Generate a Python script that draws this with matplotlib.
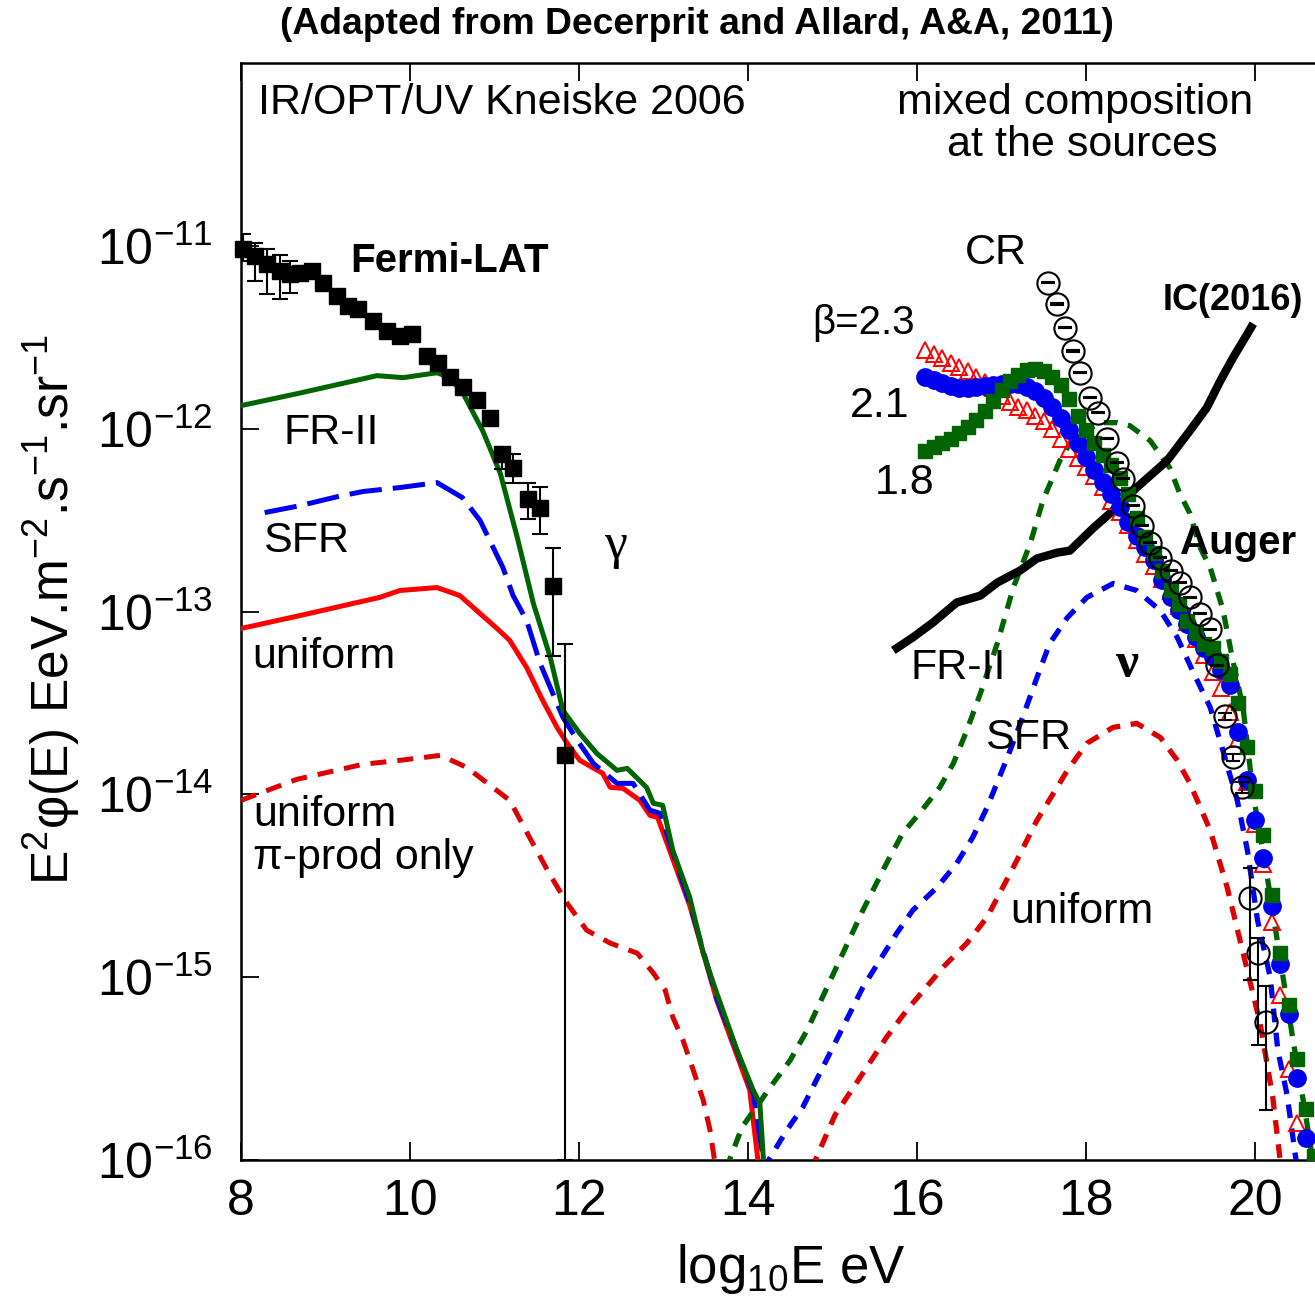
import numpy as np
import matplotlib
matplotlib.use('Agg')
import matplotlib.pyplot as plt

plt.rcParams['font.family'] = ['Liberation Sans', 'DejaVu Sans']
plt.rcParams['mathtext.fontset'] = 'custom'
plt.rcParams['mathtext.rm'] = 'Liberation Sans'
plt.rcParams['mathtext.it'] = 'Liberation Sans:italic'
plt.rcParams['mathtext.bf'] = 'Liberation Sans:bold'
plt.rcParams['mathtext.default'] = 'regular'

# ---------------- data (x = log10 E/eV, y = log10 E^2 phi) ----------------
fermi_x = [8.02, 8.17, 8.31, 8.46, 8.58, 8.70, 8.84, 8.97, 9.14, 9.27, 9.38, 9.56, 9.73,
           9.88, 10.02, 10.20, 10.33, 10.47, 10.63, 10.79, 10.95, 11.09, 11.22, 11.40,
           11.54, 11.69, 11.83]
fermi_y = [-11.016, -11.055, -11.098, -11.137, -11.153, -11.148, -11.137, -11.202, -11.273,
           -11.328, -11.344, -11.410, -11.464, -11.492, -11.481, -11.601, -11.639, -11.716,
           -11.770, -11.842, -11.940, -12.137, -12.213, -12.383, -12.432, -12.858, -13.787]
fermi_lo = [0.066, 0.136, 0.164, 0.153, 0.104, 0, 0, 0, 0, 0, 0, 0, 0, 0, 0, 0, 0, 0, 0, 0, 0,
            0.082, 0.082, 0.109, 0.142, 0.388, 2.213]
fermi_hi = [0.082, 0.071, 0.082, 0.088, 0.071, 0, 0, 0, 0, 0, 0, 0, 0, 0, 0, 0, 0, 0, 0, 0, 0,
            0.033, 0.076, 0.088, 0.115, 0.208, 0.607]

# gamma-ray cascade curves
g_fr2_x = [8.0, 8.66, 9.61, 9.92, 10.32, 10.47, 10.63, 10.86, 11.07, 11.27, 11.46, 11.66,
           11.81, 12.01, 12.21, 12.45, 12.57, 12.80, 12.88, 12.99, 13.11, 13.31, 13.47, 13.63,
           13.87, 14.06, 14.14, 14.19]
g_fr2_y = [-11.874, -11.809, -11.710, -11.721, -11.694, -11.721, -11.809, -12.011, -12.246,
           -12.596, -12.956, -13.251, -13.541, -13.667, -13.776, -13.869, -13.858, -13.962,
           -14.049, -14.060, -14.306, -14.563, -14.869, -15.087, -15.399, -15.617, -15.689,
           -16.05]

g_sfr_x = [8.28, 8.70, 9.14, 9.44, 9.88, 10.32, 10.62, 10.83, 11.10, 11.22, 11.38, 11.54,
           11.69, 11.81, 11.98, 12.17, 12.45, 12.64, 12.84, 12.96, 13.31, 13.63, 14.06, 14.20]
g_sfr_y = [-12.459, -12.421, -12.372, -12.344, -12.322, -12.295, -12.377, -12.503, -12.760,
           -12.913, -13.049, -13.284, -13.448, -13.579, -13.705, -13.831, -13.940, -13.940,
           -14.087, -14.104, -14.596, -15.115, -15.634, -16.05]

g_uni_x = [8.0, 8.70, 9.64, 9.88, 10.32, 10.59, 10.79, 11.03, 11.18, 11.38, 11.57, 11.74,
           11.86, 12.01, 12.28, 12.37, 12.52, 12.72, 12.84, 12.93, 13.31, 13.63, 14.02, 14.13]
g_uni_y = [-13.093, -13.022, -12.923, -12.885, -12.869, -12.913, -12.995, -13.093, -13.158,
           -13.306, -13.486, -13.634, -13.721, -13.814, -13.885, -13.962, -13.967, -14.033,
           -14.115, -14.126, -14.607, -15.126, -15.617, -16.05]

g_pi_x = [8.0, 8.66, 9.44, 9.88, 10.36, 10.67, 10.98, 11.18, 11.42, 11.66, 11.86, 12.09,
          12.37, 12.69, 12.88, 13.02, 13.11, 13.23, 13.34, 13.47, 13.55, 13.62]
g_pi_y = [-14.033, -13.918, -13.836, -13.814, -13.787, -13.852, -13.962, -14.033, -14.240,
          -14.443, -14.596, -14.743, -14.814, -14.869, -14.978, -15.071, -15.219, -15.344,
          -15.492, -15.672, -15.836, -16.05]

# neutrino curves
n_fr2_x = [13.74, 13.93, 14.30, 14.50, 14.70, 15.36, 15.64, 15.83, 16.04, 16.27, 16.43,
           16.59, 16.75, 16.95, 17.14, 17.34, 17.49, 17.69, 17.85, 18.17, 18.37, 18.52,
           18.76, 18.99, 19.11, 19.23, 19.35, 19.47, 19.62, 19.73, 19.86, 19.98, 20.14,
           20.30, 20.45, 20.59, 20.70]
n_fr2_y = [-16.05, -15.820, -15.579, -15.454, -15.290, -14.634, -14.377, -14.213, -14.098,
           -13.962, -13.831, -13.650, -13.448, -13.175, -12.869, -12.628, -12.393, -12.175,
           -12.049, -11.967, -11.967, -11.984, -12.066, -12.213, -12.355, -12.464, -12.650,
           -12.760, -12.989, -13.251, -13.530, -14.005, -14.437, -14.907, -15.344, -15.727,
           -16.05]

n_sfr_x = [14.18, 14.46, 14.65, 15.36, 15.56, 15.76, 15.95, 16.24, 16.47, 16.66, 16.83,
           17.07, 17.25, 17.42, 17.57, 17.78, 18.01, 18.32, 18.60, 18.88, 19.08, 19.27,
           19.47, 19.62, 19.79, 19.91, 20.03, 20.18, 20.27, 20.38, 20.50]
n_sfr_y = [-16.05, -15.836, -15.710, -15.055, -14.907, -14.760, -14.634, -14.508, -14.377,
           -14.235, -14.071, -13.798, -13.579, -13.361, -13.175, -13.033, -12.923, -12.847,
           -12.885, -12.995, -13.142, -13.333, -13.525, -13.760, -14.033, -14.306, -14.689,
           -15.0, -15.399, -15.645, -16.05]

n_uni_x = [14.75, 15.03, 15.33, 15.64, 15.88, 16.31, 16.59, 16.83, 17.14, 17.42, 17.78,
           18.01, 18.32, 18.60, 18.88, 19.08, 19.23, 19.47, 19.67, 19.86, 20.06, 20.21,
           20.31]
n_uni_y = [-16.05, -15.754, -15.546, -15.328, -15.180, -14.945, -14.814, -14.672, -14.399,
           -14.142, -13.869, -13.721, -13.634, -13.612, -13.689, -13.814, -13.940, -14.197,
           -14.508, -14.869, -15.251, -15.656, -16.05]

# IceCube 2016 limit
ic_x = [15.72, 15.95, 16.19, 16.47, 16.75, 16.95, 17.22, 17.42, 17.66, 17.81, 18.08, 18.32,
        18.60, 18.96, 19.23, 19.43, 19.59, 19.74, 19.91, 19.98]
ic_y = [-13.213, -13.142, -13.060, -12.951, -12.913, -12.842, -12.776, -12.710, -12.678,
        -12.667, -12.546, -12.448, -12.322, -12.175, -12.011, -11.885, -11.738, -11.612,
        -11.481, -11.426]

# UHECR model spectra (beta = 2.3, 2.1, 1.8)
b23_x = [16.1, 16.2, 16.3, 16.4, 16.5, 16.6, 16.7, 16.8, 16.9, 17.0, 17.1, 17.2, 17.3, 17.4,
         17.5, 17.6, 17.7, 17.8, 17.9, 18.0, 18.1, 18.2, 18.3, 18.4, 18.5, 18.6, 18.7, 18.8,
         18.9, 19.0, 19.1, 19.2, 19.3, 19.4, 19.5, 19.6, 19.7, 19.8, 19.9, 20.0, 20.1, 20.2,
         20.3, 20.4, 20.5]
b23_y = [-11.57, -11.59, -11.615, -11.64, -11.66, -11.685, -11.715, -11.745, -11.78, -11.82,
         -11.855, -11.88, -11.90, -11.93, -11.96, -12.00, -12.055, -12.11, -12.16, -12.21,
         -12.26, -12.32, -12.395, -12.455, -12.525, -12.61, -12.685, -12.75, -12.82, -12.89,
         -12.97, -13.06, -13.15, -13.24, -13.33, -13.42, -13.55, -13.70, -13.93, -14.16,
         -14.38, -14.70, -15.10, -15.50, -15.80]

b21_x = [16.1, 16.2, 16.3, 16.4, 16.5, 16.6, 16.7, 16.8, 16.9, 17.0, 17.1, 17.2, 17.3, 17.4,
         17.5, 17.6, 17.7, 17.8, 17.9, 18.0, 18.1, 18.2, 18.3, 18.4, 18.5, 18.6, 18.7, 18.8,
         18.9, 19.0, 19.1, 19.2, 19.3, 19.4, 19.5, 19.6, 19.7, 19.8, 19.9, 20.0, 20.1, 20.2,
         20.3, 20.4, 20.5, 20.6]
b21_y = [-11.72, -11.735, -11.75, -11.765, -11.775, -11.775, -11.77, -11.765, -11.76, -11.755,
         -11.755, -11.755, -11.77, -11.795, -11.83, -11.88, -11.94, -12.01, -12.08, -12.155,
         -12.225, -12.29, -12.36, -12.43, -12.51, -12.585, -12.645, -12.72, -12.83, -12.92,
         -12.99, -13.07, -13.14, -13.20, -13.25, -13.32, -13.40, -13.66, -13.92, -14.14,
         -14.35, -14.61, -14.93, -15.20, -15.55, -15.88]

b18_x = [16.1, 16.2, 16.3, 16.4, 16.5, 16.6, 16.7, 16.8, 16.9, 17.0, 17.1, 17.2, 17.3, 17.4,
         17.5, 17.6, 17.7, 17.8, 17.9, 18.0, 18.1, 18.2, 18.3, 18.4, 18.5, 18.6, 18.7, 18.8,
         18.9, 19.0, 19.1, 19.2, 19.3, 19.4, 19.5, 19.6, 19.7, 19.8, 19.9, 20.0, 20.1, 20.2,
         20.3, 20.4, 20.5, 20.6, 20.7]
b18_y = [-12.12, -12.10, -12.08, -12.055, -12.025, -11.99, -11.95, -11.905, -11.847, -11.79,
         -11.74, -11.705, -11.68, -11.672, -11.685, -11.715, -11.76, -11.84, -11.93, -12.01,
         -12.08, -12.145, -12.20, -12.27, -12.36, -12.486, -12.59, -12.68, -12.78, -12.885,
         -12.96, -13.05, -13.12, -13.18, -13.20, -13.27, -13.34, -13.50, -13.74, -13.98,
         -14.22, -14.55, -14.87, -15.15, -15.45, -15.72, -15.98]

# Auger cosmic-ray data
cr_x = [17.55, 17.66, 17.75, 17.85, 17.93, 18.05, 18.14, 18.25, 18.37, 18.44, 18.56, 18.66,
        18.76, 18.88, 19.00, 19.11, 19.23, 19.35, 19.47, 19.55, 19.64, 19.74, 19.85, 19.94,
        20.04, 20.13]
cr_y = [-11.202, -11.317, -11.448, -11.574, -11.694, -11.831, -11.913, -12.055, -12.186,
        -12.273, -12.421, -12.530, -12.623, -12.705, -12.776, -12.842, -12.923, -13.011,
        -13.098, -13.295, -13.574, -13.798, -13.962, -14.568, -14.869, -15.246]
cr_lo = [0.004] * 20 + [0.02, 0.02, 0.03, 0.448, 0.503, 0.48]
cr_hi = [0.004] * 20 + [0.02, 0.02, 0.03, 0.164, 0.082, 0.20]

xticks = [8, 10, 12, 14, 16, 18, 20]
yticks_exp = [-16, -15, -14, -13, -12, -11]

# ---------------- figure ----------------
W, H = 1315, 1306
fig = plt.figure(figsize=(W / 100, H / 100), dpi=100)
ax = fig.add_axes([241 / W, 1 - 1160 / H, (1339.5 - 241) / W, (1160 - 63) / H])

p = lambda a: 10.0 ** np.asarray(a, dtype=float)

GREEN = '#006400'
BLUE = '#0000f0'
RED = '#ff0000'
DRED = '#dd0000'

# gamma curves
ax.plot(g_pi_x, p(g_pi_y), color=DRED, lw=3.6, dashes=(3.2, 2.2), zorder=3)
ax.plot(g_uni_x, p(g_uni_y), color=RED, lw=3.6, zorder=3)
ax.plot(g_sfr_x, p(g_sfr_y), color=BLUE, lw=3.6, dashes=(6.5, 2.2), zorder=3)
ax.plot(g_fr2_x, p(g_fr2_y), color=GREEN, lw=3.6, zorder=4)

# neutrino curves
ax.plot(n_fr2_x, p(n_fr2_y), color=GREEN, lw=3.8, dashes=(2.6, 2.0), zorder=3)
ax.plot(n_sfr_x, p(n_sfr_y), color=BLUE, lw=3.8, dashes=(2.6, 2.0), zorder=3)
ax.plot(n_uni_x, p(n_uni_y), color=DRED, lw=3.8, dashes=(2.6, 2.0), zorder=3)

# IceCube
ax.plot(ic_x, p(ic_y), color='black', lw=6, zorder=4, solid_capstyle='butt')

# model UHECR spectra
ax.plot(b23_x, p(b23_y), ls='none', marker='^', ms=11, mfc='none', mec=RED, mew=1.4, zorder=5)
ax.plot(b21_x, p(b21_y), ls='none', marker='o', ms=12.5, mfc=BLUE, mec=BLUE, zorder=6)
ax.plot(b18_x, p(b18_y), ls='none', marker='s', ms=10.5, mfc=GREEN, mec=GREEN, zorder=7)

# Auger data
cy = p(cr_y)
cerr = [cy - p(np.asarray(cr_y) - np.asarray(cr_lo)), p(np.asarray(cr_y) + np.asarray(cr_hi)) - cy]
ax.errorbar(cr_x, cy, yerr=cerr, fmt='o', ms=16, mfc='none', mec='black', mew=1.5,
            ecolor='black', elinewidth=1.5, capsize=5, capthick=1.8, zorder=8)

# Fermi-LAT
fy = p(fermi_y)
ferr = [fy - p(np.asarray(fermi_y) - np.asarray(fermi_lo)), p(np.asarray(fermi_y) + np.asarray(fermi_hi)) - fy]
ax.errorbar(fermi_x, fy, yerr=ferr, fmt='none', ecolor='black', elinewidth=1.5,
            capsize=6, capthick=1.5, zorder=8)
ax.plot(fermi_x, fy, ls='none', marker='s', ms=11, mfc='black', mec='black', zorder=8,
        clip_on=False)

# ---------------- axes ----------------
ax.set_yscale('log')
ax.set_xlim(8, 21)
ax.set_ylim(1e-16, 10 ** -10.0)
ax.set_xticks(xticks)
ax.set_xticklabels([str(t) for t in xticks])
ax.set_yticks([10.0 ** e for e in yticks_exp])
ax.set_yticklabels([r'$10^{%d}$' % e for e in yticks_exp])
ax.minorticks_off()
ax.tick_params(axis='both', which='major', direction='in', length=13, width=1.3,
               top=True, right=False, labelsize=36)
ax.tick_params(axis='y', pad=20)
ax.tick_params(axis='x', pad=14)
for s in ax.spines.values():
    s.set_linewidth(1.8)

ax.set_xlabel(r'log$_{10}$E eV', fontsize=38, labelpad=12)

fig.text(52 / W, 1 - 610 / H, r'E$^{2}$φ(E) EeV.m$^{-2}$.s$^{-1}$.sr$^{-1}$', rotation=90,
         fontsize=37, ha='center', va='center')
fig.text(697 / W, 1 - 25 / H, '(Adapted from Decerprit and Allard, A&A, 2011)',
         fontsize=26.8, fontweight='bold', ha='center', va='center')

# ---------------- annotations ----------------
def T(x, ly, s, **kw):
    kw.setdefault('fontsize', 31)
    kw.setdefault('va', 'center')
    kw.setdefault('ha', 'left')
    ax.text(x, 10 ** ly, s, **kw)

T(8.20, -10.219, 'IR/OPT/UV Kneiske 2006')
T(17.87, -10.219, 'mixed composition', ha='center')
T(17.95, -10.45, 'at the sources', ha='center')
T(9.29, -11.082, 'Fermi-LAT', fontweight='bold', fontsize=29)
T(8.50, -12.022, 'FR-II')
T(8.26, -12.612, 'SFR')
T(8.13, -13.251, 'uniform')
T(8.14, -14.115, 'uniform')
T(8.14, -14.350, 'π-prod only')
T(12.43, -12.639, 'γ', ha='center', fontsize=37, family=['Liberation Serif', 'DejaVu Serif'])
T(16.57, -11.038, 'CR')
T(18.91, -11.301, 'IC(2016)', fontweight='bold', fontsize=26)
T(14.76, -11.421, 'β=2.3', fontsize=29)
T(15.21, -11.874, '2.1')
T(15.50, -12.295, '1.8')
T(19.11, -12.628, 'Auger', fontweight='bold', fontsize=29)
T(15.92, -13.311, 'FR-II')
T(16.80, -13.694, 'SFR')
T(18.49, -13.295, 'ν', ha='center', fontsize=37, fontweight='bold',
  family=['Liberation Serif', 'DejaVu Serif'])
T(17.10, -14.645, 'uniform')

fig.savefig('out.png', dpi=100)
